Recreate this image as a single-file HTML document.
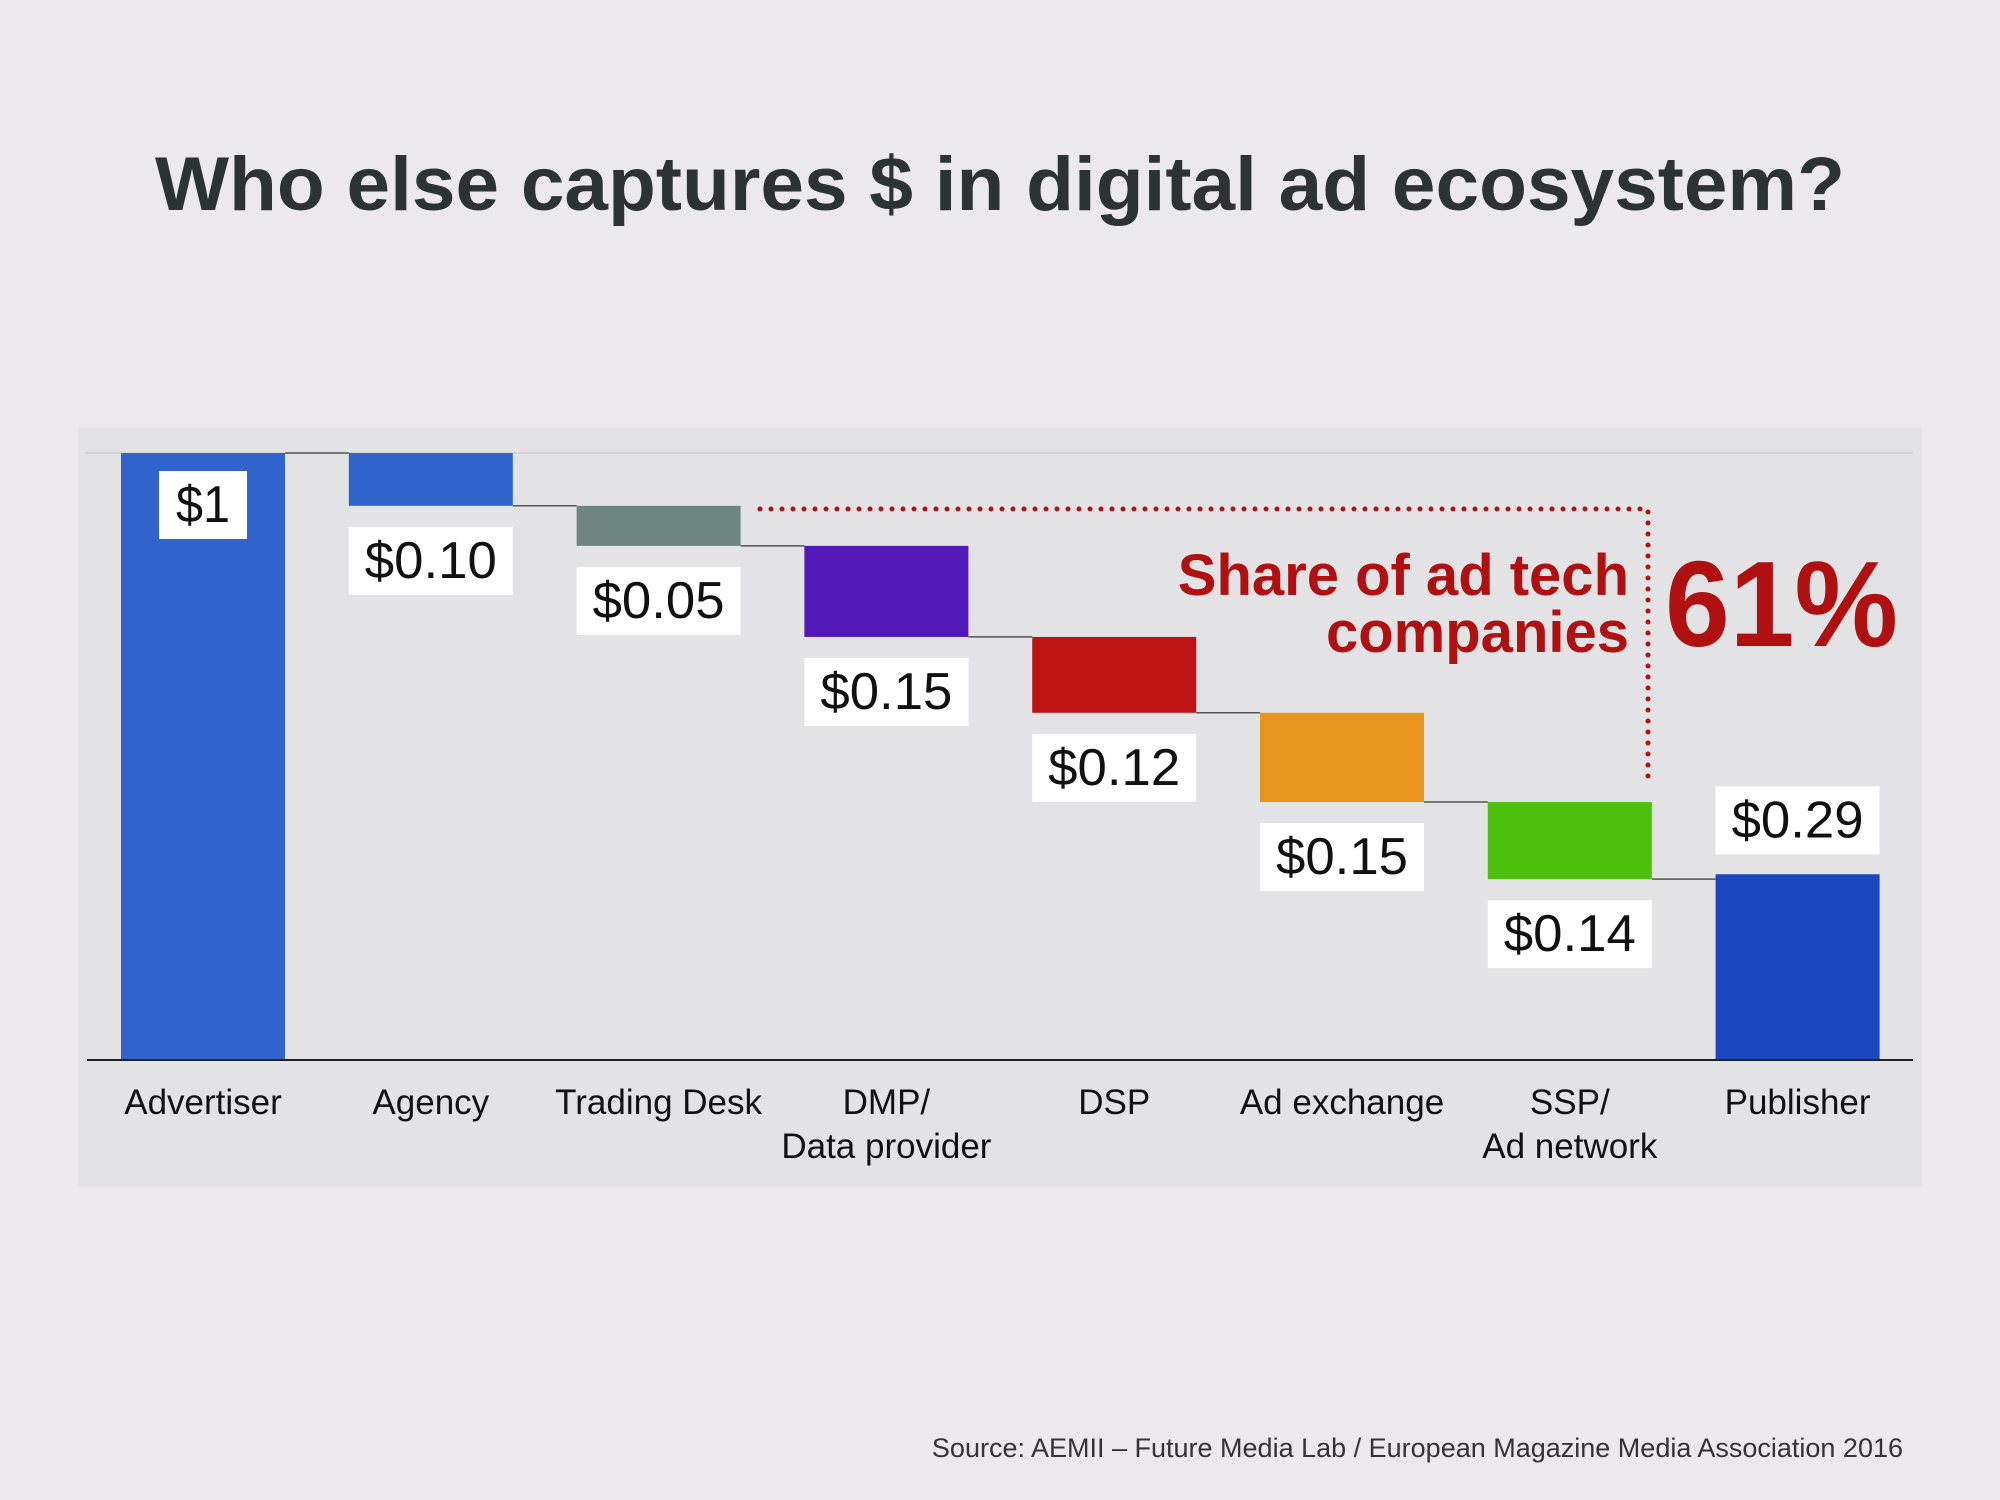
<!DOCTYPE html>
<html><head><meta charset="utf-8"><style>
html,body{margin:0;padding:0;background:#ebe9ec;}
svg{display:block;font-family:"Liberation Sans",sans-serif;}
</style></head><body>
<svg id="chart" width="2000" height="1500" viewBox="0 0 2000 1500" xmlns="http://www.w3.org/2000/svg">
<rect x="0" y="0" width="2000" height="1500" fill="#ebe9ec"/>
<text x="1000" y="210" text-anchor="middle" font-size="76" font-weight="bold" fill="#2d3233" textLength="1690" lengthAdjust="spacingAndGlyphs">Who else captures $ in digital ad ecosystem?</text>
<rect x="78" y="428" width="1844" height="759" fill="#e3e2e5"/>
<line x1="85" y1="453" x2="1913" y2="453" stroke="#d4d3d6" stroke-width="2"/>
<g id="marks"></g>
<line x1="87" y1="1060" x2="1913" y2="1060" stroke="#222" stroke-width="2"/>
<path d="M760 509 H1648 V782" fill="none" stroke="#b01010" stroke-width="5" stroke-dasharray="0 11" stroke-linecap="round"/>
<text x="1629" y="595" text-anchor="end" font-size="58" font-weight="bold" fill="#b01010">Share of ad tech</text>
<text x="1629" y="652" text-anchor="end" font-size="58" font-weight="bold" fill="#b01010">companies</text>
<text x="1665" y="646" font-size="122" font-weight="bold" fill="#b01010" textLength="233" lengthAdjust="spacingAndGlyphs">61%</text>
<text x="1903" y="1457" text-anchor="end" font-size="27" fill="#333">Source: AEMII – Future Media Lab / European Magazine Media Association 2016</text>
</svg>
<script>
const categories = ["Advertiser","Agency","Trading Desk","DMP/|Data provider","DSP","Ad exchange","SSP/|Ad network","Publisher"];
const values = [1, 0.087, 0.066, 0.15, 0.125, 0.147, 0.127, 0.306];
const valueLabels = ["$1","$0.10","$0.05","$0.15","$0.12","$0.15","$0.14","$0.29"];
const colors = ["#3064cc","#3064cc","#6f8580","#5219b8","#c01414","#e89520","#4cc00c","#1a47c0"];

const NS = "http://www.w3.org/2000/svg";
const g = document.getElementById("marks");
const baseY = 1060, topY = 453;
function yScale(v){ return baseY - v*(baseY-topY); }
function xCenter(i){ return 203 + i*227.8; }
const barW = 164;
function mk(tag, attrs){ const e=document.createElementNS(NS,tag); for(const k in attrs) e.setAttribute(k,attrs[k]); g.appendChild(e); return e; }

let level = 0;
const n = values.length;
for(let i=0;i<n;i++){
  let top, bot;
  if(i===0){ top=values[0]; bot=0; level=values[0]; }
  else if(i===n-1){ top=values[i]; bot=0; }
  else { top=level; bot=level-values[i]; level=bot; }
  const x = xCenter(i)-barW/2;
  const r = mk("rect",{x:x,y:yScale(top),width:barW,height:yScale(bot)-yScale(top),fill:colors[i]});
  
  
  if(i<n-1){
    let connLevel = (i===0)? values[0] : bot;
    const c = mk("line",{x1:x+barW,y1:yScale(connLevel),x2:xCenter(i+1)-barW/2,y2:yScale(connLevel),stroke:"#555","stroke-width":1.5});
    
    
  }
  let bw = (i===0)?88:164, bh=68, by;
  if(i===0) by = yScale(top)+18;
  else if(i===n-1) by = yScale(top)-88;
  else by = yScale(bot)+21;
  const bx = xCenter(i)-bw/2;
  const b = mk("rect",{x:bx,y:by,width:bw,height:bh,fill:"#ffffff"});
  
  
  const t = mk("text",{x:xCenter(i),y:by+51,"text-anchor":"middle","font-size":52,fill:"#111",textLength:(i===0?54:132),lengthAdjust:"spacingAndGlyphs"});
  t.textContent = valueLabels[i];
  
  
  const lines = categories[i].split("|");
  lines.forEach((ln,j)=>{
    const ct = mk("text",{x:xCenter(i),y:1114+j*44,"text-anchor":"middle","font-size":35,fill:"#111"});
    ct.textContent = ln;
    
    
  });
}
</script>
</body></html>
